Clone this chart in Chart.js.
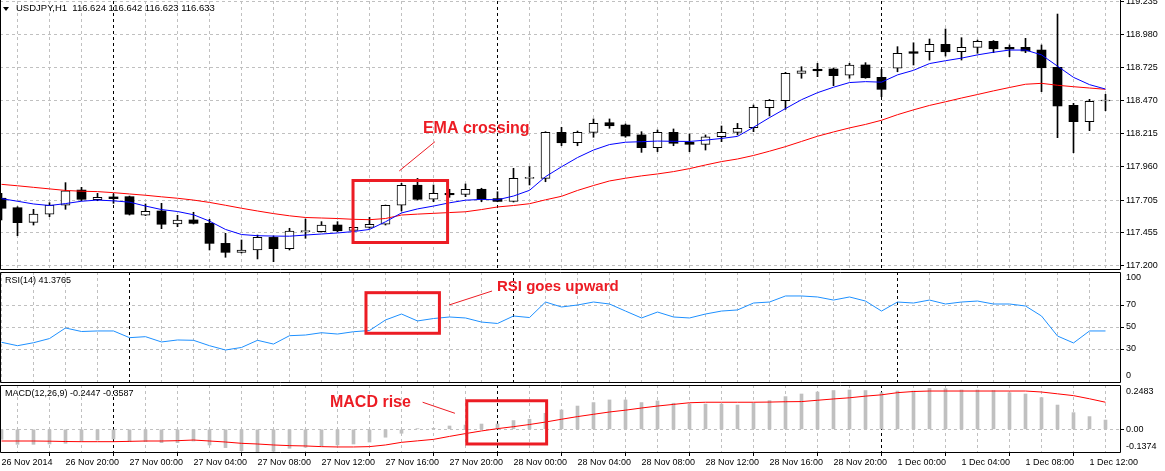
<!DOCTYPE html>
<html><head><meta charset="utf-8">
<script src="https://cdn.jsdelivr.net/npm/chart.js@4.4.0/dist/chart.umd.min.js"></script>
<style>
html,body{margin:0;padding:0;background:#fff;width:1165px;height:471px;overflow:hidden;}
canvas{position:absolute;left:0;}
</style></head><body>
<canvas id="cMain" width="1165" height="270" style="top:0px"></canvas>
<canvas id="cRsi" width="1165" height="112" style="top:271px"></canvas>
<canvas id="cMacd" width="1165" height="87" style="top:384px"></canvas>
<script>
// ---------- DATA (USDJPY H1) ----------
const opens = [117.719,117.646,117.534,117.596,117.665,117.782,117.708,117.729,117.731,117.588,
 117.621,117.521,117.552,117.526,117.372,117.303,117.321,117.418,117.331,117.462,
 117.462,117.513,117.472,117.495,117.519,117.665,117.819,117.711,117.757,117.749,
 117.788,117.716,117.695,117.872,117.872,118.226,118.146,118.226,118.300,118.282,
 118.206,118.108,118.226,118.149,118.134,118.192,118.226,118.262,118.416,118.469,
 118.680,118.711,118.713,118.665,118.744,118.649,118.719,118.846,118.846,118.903,
 118.846,118.880,118.926,118.880,118.880,118.859,118.726,118.434,118.308,118.467];
const highs = [117.757,117.654,117.634,117.685,117.839,117.803,117.757,117.752,117.736,117.675,
 117.680,117.588,117.611,117.557,117.449,117.398,117.436,117.429,117.488,117.559,
 117.539,117.539,117.495,117.572,117.667,117.834,117.872,117.821,117.788,117.829,
 117.796,117.769,117.949,117.962,118.231,118.265,118.236,118.329,118.329,118.290,
 118.231,118.244,118.252,118.213,118.206,118.275,118.295,118.436,118.479,118.688,
 118.731,118.757,118.721,118.757,118.762,118.711,118.885,118.915,118.944,119.021,
 118.954,118.936,118.932,118.898,118.949,118.898,119.136,118.449,118.480,118.519];
const lows = [117.552,117.431,117.513,117.577,117.634,117.700,117.700,117.680,117.590,117.585,
 117.485,117.500,117.521,117.321,117.265,117.298,117.252,117.231,117.321,117.411,
 117.459,117.462,117.462,117.488,117.513,117.621,117.705,117.692,117.726,117.731,
 117.692,117.692,117.690,117.821,117.846,118.123,118.123,118.188,118.257,118.188,
 118.072,118.077,118.123,118.077,118.090,118.154,118.206,118.231,118.352,118.403,
 118.642,118.654,118.585,118.642,118.642,118.500,118.692,118.744,118.782,118.813,
 118.782,118.834,118.839,118.808,118.839,118.539,118.185,118.069,118.239,118.392];
const closes = [117.642,117.531,117.598,117.667,117.777,117.711,117.726,117.716,117.596,117.619,
 117.519,117.552,117.526,117.372,117.303,117.321,117.418,117.331,117.467,117.462,
 117.513,117.469,117.495,117.519,117.665,117.819,117.711,117.757,117.746,117.788,
 117.711,117.695,117.872,117.872,118.226,118.146,118.226,118.295,118.277,118.198,
 118.108,118.226,118.142,118.134,118.192,118.226,118.257,118.419,118.472,118.680,
 118.700,118.700,118.662,118.744,118.646,118.557,118.834,118.834,118.903,118.846,
 118.880,118.926,118.869,118.867,118.852,118.723,118.429,118.308,118.465,118.467];
const emaFast = [117.716,117.696,117.675,117.663,117.678,117.696,117.705,117.699,117.689,117.659,
 117.632,117.617,117.592,117.543,117.479,117.440,117.431,117.428,117.427,117.436,
 117.444,117.452,117.463,117.479,117.538,117.606,117.637,117.659,117.684,117.704,
 117.710,117.707,117.736,117.780,117.885,117.961,118.032,118.090,118.132,118.150,
 118.154,118.159,118.157,118.156,118.166,118.179,118.195,118.265,118.339,118.409,
 118.477,118.531,118.573,118.609,118.616,118.612,118.668,118.703,118.755,118.777,
 118.797,118.822,118.842,118.859,118.859,118.822,118.735,118.649,118.593,118.559];
const emaSlow = [117.826,117.815,117.803,117.791,117.779,117.773,117.770,117.762,117.752,117.742,
 117.730,117.719,117.705,117.687,117.665,117.642,117.621,117.601,117.584,117.571,
 117.567,117.563,117.557,117.554,117.563,117.590,117.597,117.603,117.609,117.615,
 117.632,117.652,117.663,117.677,117.707,117.734,117.779,117.817,117.852,117.873,
 117.891,117.906,117.924,117.947,117.975,118.001,118.021,118.048,118.081,118.116,
 118.156,118.196,118.229,118.260,118.287,118.319,118.362,118.399,118.433,118.461,
 118.490,118.517,118.545,118.571,118.596,118.603,118.588,118.577,118.567,118.557];
const rsiValues = [36.1,33.0,35.7,39.5,49.1,45.9,46.4,46.4,40.3,41.2,
 36.4,38.2,37.9,33.0,29.1,31.4,37.9,34.5,42.1,42.7,
 44.8,43.6,45.7,46.8,56.4,61.8,55.5,57.7,59.1,58.2,
 54.5,53.2,60.0,58.6,72.7,68.2,70.0,72.7,70.9,64.5,
 58.2,63.6,59.1,58.2,61.8,64.5,65.5,71.8,72.7,78.2,
 78.2,77.3,74.5,77.3,73.6,64.5,72.7,71.8,74.5,70.9,
 72.7,73.6,70.9,70.9,69.1,60.0,41.8,35.5,46.4,46.4];
const macdHist = [-0.061,-0.091,-0.091,-0.089,-0.085,-0.071,-0.065,-0.059,-0.075,-0.075,
 -0.081,-0.081,-0.071,-0.095,-0.111,-0.130,-0.137,-0.133,-0.115,-0.109,
 -0.101,-0.095,-0.089,-0.077,-0.048,-0.024,0.004,0.006,0.020,0.026,
 0.032,0.032,0.053,0.061,0.097,0.117,0.141,0.162,0.178,0.178,
 0.162,0.172,0.158,0.153,0.153,0.153,0.147,0.158,0.174,0.198,
 0.214,0.226,0.235,0.238,0.235,0.222,0.232,0.232,0.248,0.246,
 0.238,0.238,0.235,0.222,0.214,0.192,0.147,0.101,0.077,0.056];
const macdSignal = [-0.071,-0.071,-0.071,-0.072,-0.074,-0.075,-0.075,-0.075,-0.073,-0.071,
 -0.071,-0.069,-0.065,-0.071,-0.077,-0.085,-0.089,-0.095,-0.099,-0.101,
 -0.105,-0.107,-0.107,-0.105,-0.095,-0.079,-0.070,-0.061,-0.043,-0.026,
 -0.010,0.004,0.016,0.029,0.044,0.061,0.077,0.091,0.105,0.116,
 0.129,0.141,0.151,0.161,0.164,0.164,0.164,0.164,0.165,0.167,
 0.168,0.176,0.184,0.191,0.201,0.209,0.222,0.229,0.232,0.232,
 0.232,0.232,0.232,0.232,0.232,0.226,0.215,0.204,0.185,0.164];

const priceTicks = [117.200,117.455,117.705,117.960,118.215,118.470,118.725,118.980,119.235];
const rsiTicks = [100,70,50,30,0];
const macdTicks = [0.2483,0.00,-0.1374];
const xTickLabels = ['26 Nov 2014','26 Nov 20:00','27 Nov 00:00','27 Nov 04:00','27 Nov 08:00',
 '27 Nov 12:00','27 Nov 16:00','27 Nov 20:00','28 Nov 00:00','28 Nov 04:00','28 Nov 08:00',
 '28 Nov 12:00','28 Nov 16:00','28 Nov 20:00','1 Dec 00:00','1 Dec 04:00','1 Dec 08:00','1 Dec 12:00'];
const xTickBars = [0,4,8,12,16,20,24,28,32,36,40,44,48,52,56,60,64,68];
const daySeparatorBars = [8,32,56];

const mainTitle = 'USDJPY,H1  116.624 116.642 116.623 116.633';
const rsiTitle = 'RSI(14) 41.3765';
const macdTitle = 'MACD(12,26,9) -0.2447 -0.3587';

// ---------- presentation ----------
const N = opens.length;
const X_MIN = -0.09375, X_MAX = X_MIN + 70;
const RED = '#ec1c24';
const FONT = "'Liberation Sans', Arial, sans-serif";

function xAxis(showLabels) {
  return {
    type: 'linear', min: X_MIN, max: X_MAX, offset: false,
    afterBuildTicks: s => { const t = []; for (let i = 0; i < N; i += 2) t.push({value: i}); s.ticks = t; },
    grid: {
      color: c => (c.tick && daySeparatorBars.includes(c.tick.value)) ? '#000' : '#c0c0c0',
      lineWidth: 1, drawTicks: showLabels, tickLength: 4, tickBorderDash: [],
      tickColor: c => (c.tick && xTickBars.includes(c.tick.value)) ? '#000' : 'rgba(0,0,0,0)'
    },
    border: { display: false, dash: [3, 3] },
    ticks: {
      display: showLabels, autoSkip: false, maxRotation: 0, minRotation: 0, align: 'start', padding: 1,
      color: '#000', font: { family: FONT, size: 9 },
      callback: v => { const k = xTickBars.indexOf(v); return k >= 0 ? xTickLabels[k] : ''; }
    },
    afterFit: s => { s.height = showLabels ? 19 : 0; }
  };
}
function yAxis(min, max, ticks, edgeless) {
  const inner = v => !edgeless || (v !== ticks[0] && v !== ticks[ticks.length - 1]);
  return {
    type: 'linear', position: 'right', min, max,
    afterBuildTicks: s => { s.ticks = ticks.map(v => ({value: v})); },
    grid: {
      color: c => (c.tick && inner(c.tick.value)) ? '#c0c0c0' : 'rgba(0,0,0,0)',
      drawTicks: true, tickLength: 4, tickBorderDash: [],
      tickColor: c => (c.tick && inner(c.tick.value)) ? '#000' : 'rgba(0,0,0,0)'
    },
    border: { display: false, dash: [3, 3] },
    ticks: { display: false },
    afterFit: s => { s.width = 45; }
  };
}
function decor(cfg) {
  return {
    id: 'decor',
    afterDraw(chart) {
      const {ctx, chartArea: a, scales} = chart;
      const xs = scales.x, ys = scales.y;
      ctx.save();
      ctx.setLineDash([]);
      ctx.strokeStyle = '#000'; ctx.lineWidth = 1;
      const L = Math.round(a.left) + 0.5, R = Math.round(a.right) + 0.5;
      const T = Math.round(a.top) + 0.5, B = Math.round(a.bottom) + 0.5;
      ctx.beginPath();
      if (cfg.frameTop) { ctx.moveTo(L, T); ctx.lineTo(R, T); }
      const top = cfg.frameTop ? T : 0;
      ctx.moveTo(L, top); ctx.lineTo(L, B); ctx.lineTo(R, B); ctx.lineTo(R, top);
      ctx.stroke();
      ctx.fillStyle = '#000';
      ctx.font = '9px ' + FONT;
      ctx.textAlign = 'left'; ctx.textBaseline = 'middle';
      cfg.labels.forEach(l => ctx.fillText(l.t, a.right + 6, ys.getPixelForValue(l.v) + (l.dy || 0)));
      ctx.font = cfg.titleSize + 'px ' + FONT;
      ctx.fillText(cfg.title, cfg.titleX, a.top + cfg.titleDy);
      if (cfg.triangle) {
        ctx.beginPath(); ctx.moveTo(3, 7); ctx.lineTo(9, 7); ctx.lineTo(6, 11); ctx.closePath(); ctx.fill();
      }
      ctx.strokeStyle = RED; ctx.fillStyle = RED;
      (cfg.notes || []).forEach(n => {
        if (n.box) {
          ctx.lineWidth = 3;
          const x0 = xs.getPixelForValue(n.box[0]), x1 = xs.getPixelForValue(n.box[1]);
          const y0 = ys.getPixelForValue(n.box[2]), y1 = ys.getPixelForValue(n.box[3]);
          ctx.strokeRect(x0, y0, x1 - x0, y1 - y0);
        }
        if (n.line) {
          ctx.lineWidth = 1;
          ctx.beginPath();
          ctx.moveTo(xs.getPixelForValue(n.line[0]), ys.getPixelForValue(n.line[1]));
          ctx.lineTo(xs.getPixelForValue(n.line[2]), ys.getPixelForValue(n.line[3]));
          ctx.stroke();
        }
        if (n.text) {
          ctx.font = 'bold ' + n.size + 'px ' + FONT;
          ctx.textBaseline = 'alphabetic';
          ctx.fillText(n.text, xs.getPixelForValue(n.at[0]), ys.getPixelForValue(n.at[1]));
        }
      });
      ctx.restore();
    }
  };
}
const common = {
  responsive: false, animation: false, devicePixelRatio: 1, events: [],
  plugins: { legend: { display: false }, tooltip: { enabled: false } }
};

// ---------- main candlestick panel ----------
const up = [], down = [], wicks = [];
for (let i = 0; i < N; i++) {
  wicks.push({x: i, y: [lows[i], highs[i]]});
  (closes[i] >= opens[i] ? up : down).push({x: i, y: [opens[i], closes[i]]});
}
new Chart(document.getElementById('cMain'), {
  type: 'bar',
  data: { datasets: [
    { type: 'line', data: emaFast.map((v, i) => ({x: i, y: v})), borderColor: '#0000ff', borderWidth: 1, pointRadius: 0, tension: 0, order: 0 },
    { type: 'line', data: emaSlow.map((v, i) => ({x: i, y: v})), borderColor: '#ff0000', borderWidth: 1, pointRadius: 0, tension: 0, order: 1 },
    { data: up, backgroundColor: '#ffffff', borderColor: '#000', borderWidth: 1, borderSkipped: false, barThickness: 9, minBarLength: 1, grouped: false, order: 2 },
    { data: down, backgroundColor: '#000', borderColor: '#000', borderWidth: 0, barThickness: 9, minBarLength: 1, grouped: false, order: 3 },
    { data: wicks, backgroundColor: '#000', borderWidth: 0, barThickness: 1, grouped: false, order: 4 }
  ]},
  options: Object.assign({}, common, {
    layout: { padding: { top: 1, bottom: 1, left: 0, right: 0 } },
    scales: { x: xAxis(false), y: yAxis(119.244 - 269 / 130, 119.244 - 1 / 130, priceTicks, false) }
  }),
  plugins: [decor({
    frameTop: false, title: mainTitle, titleX: 16, titleDy: 7.5, titleSize: 9.5, triangle: true,
    labels: priceTicks.map(v => ({v, t: v.toFixed(3)})),
    notes: [
      { box: [21.97, 27.88, 117.8555, 117.3786] },
      { line: [24.86, 117.929, 27.09, 118.154] },
      { text: 'EMA crossing', size: 16, at: [26.34, 118.219] }
    ]
  })]
});

// ---------- RSI panel ----------
new Chart(document.getElementById('cRsi'), {
  type: 'line',
  data: { datasets: [
    { data: rsiValues.map((v, i) => ({x: i, y: v})), borderColor: '#1e90ff', borderWidth: 1, pointRadius: 0, tension: 0 }
  ]},
  options: Object.assign({}, common, {
    layout: { padding: { top: 1, bottom: 1, left: 0, right: 0 } },
    scales: { x: xAxis(false), y: yAxis(0, 100, rsiTicks, true) }
  }),
  plugins: [decor({
    frameTop: true, title: rsiTitle, titleX: 5, titleDy: 8.5, titleSize: 9,
    labels: rsiTicks.map((v, k) => ({v, t: String(v), dy: k === 0 ? 6 : (k === rsiTicks.length - 1 ? -6 : 0)})),
    notes: [
      { box: [22.78, 27.37, 81.2, 44.3] },
      { line: [27.97, 70, 30.66, 82.7] },
      { text: 'RSI goes upward', size: 15, at: [30.97, 82.7] }
    ]
  })]
});

// ---------- MACD panel ----------
new Chart(document.getElementById('cMacd'), {
  type: 'bar',
  data: { datasets: [
    { type: 'line', data: macdSignal.map((v, i) => ({x: i, y: v})), borderColor: '#ff0000', borderWidth: 1, pointRadius: 0, tension: 0, order: 0 },
    { data: macdHist.map((v, i) => ({x: i, y: v})), backgroundColor: '#c0c0c0', borderWidth: 0, barThickness: 3, grouped: false, order: 1 }
  ]},
  options: Object.assign({}, common, {
    layout: { padding: { top: 1, bottom: 0, left: 0, right: 0 } },
    scales: { x: xAxis(true), y: yAxis(-22.7 / 165, 44.3 / 165, macdTicks, true) }
  }),
  plugins: [decor({
    frameTop: true, title: macdTitle, titleX: 5, titleDy: 9, titleSize: 9,
    labels: macdTicks.map((v, k) => ({v, t: v === 0 ? '0.00' : String(v), dy: k === 0 ? 3.5 : (k === macdTicks.length - 1 ? -5 : 0)})),
    notes: [
      { box: [29.08, 34.07, 0.173, -0.089] },
      { line: [26.32, 0.164, 28.34, 0.097] },
      { text: 'MACD rise', size: 16, at: [20.53, 0.137] }
    ]
  })]
});
</script>
</body></html>
